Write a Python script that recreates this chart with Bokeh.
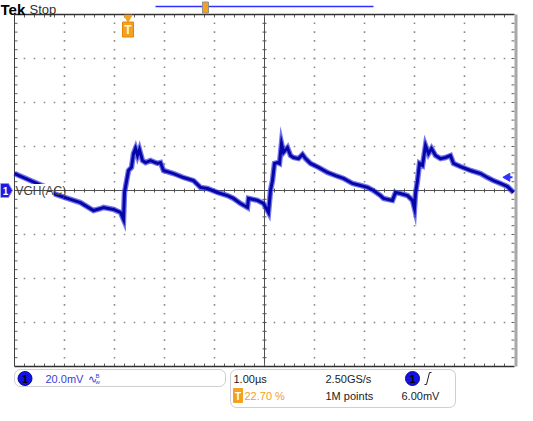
from bokeh.plotting import figure
from bokeh.models import Range1d, BoxAnnotation
from bokeh.core.properties import value
from bokeh.embed import file_html
from bokeh.resources import INLINE
import numpy as np

# ---------------- data ----------------
time_us = [-5.00, -4.68, -4.36, -4.22, -3.94, -3.68, -3.42, -3.28, -3.22, -3.02,
           -2.88, -2.82, -2.80, -2.72, -2.66, -2.62, -2.58, -2.54, -2.50, -2.44,
           -2.38, -2.28, -2.14, -2.08, -2.02, -1.82, -1.62, -1.42, -1.28, -1.14,
           -0.94, -0.74, -0.62, -0.48, -0.34, -0.32, -0.14, -0.02, 0.08, 0.12,
           0.16, 0.20, 0.26, 0.30, 0.34, 0.38, 0.46, 0.52, 0.58, 0.68,
           0.76, 0.82, 0.92, 1.08, 1.26, 1.42, 1.58, 1.76, 1.92, 2.06,
           2.18, 2.32, 2.38, 2.56, 2.62, 2.72, 2.86, 2.96, 3.00, 3.02,
           3.06, 3.10, 3.16, 3.22, 3.28, 3.34, 3.42, 3.52, 3.62, 3.72,
           3.78, 3.92, 4.12, 4.32, 4.46, 4.58, 4.72, 4.86, 4.98]
ch1_mv = [7.7, 4.5, 1.4, -1.4, -3.6, -5.5, -9.1, -8.2, -7.7, -8.6,
          -10.0, -13.2, -0.9, 9.1, 10.5, 16.8, 19.1, 15.9, 18.6, 13.6,
          12.7, 13.6, 12.3, 12.7, 9.1, 7.7, 5.9, 4.5, 1.4, 0.9,
          -0.9, -2.3, -3.6, -5.9, -7.7, -3.6, -4.5, -5.9, -10.0, 0.0,
          4.5, 12.3, 12.7, 12.3, 21.4, 17.3, 19.5, 15.9, 15.0, 14.5,
          16.4, 14.5, 12.3, 10.5, 8.2, 6.8, 5.5, 3.2, 2.3, 1.4,
          0.0, -2.3, -3.6, -4.5, -0.9, -1.4, -2.3, -4.5, -8.2, -1.4,
          4.5, 12.3, 11.4, 20.5, 16.8, 19.1, 15.9, 14.5, 15.0, 15.9,
          12.3, 10.9, 9.1, 7.7, 5.9, 4.5, 3.2, 1.8, -0.9]

channel_label = "VGH(AC)"
volts_per_div_label = "20.0mV"
time_per_div_label = "1.00µs"
trigger_pos_label = "22.70 %"
sample_rate_label = "2.50GS/s"
record_len_label = "1M points"
trigger_level_label = "6.00mV"
trigger_level_mv = 6.0
trigger_pos_pct = 22.70

US_PER_DIV = 1.0
MV_PER_DIV = 20.0
N_DIV_X = 10
N_DIV_Y = 8

# ---------------- layout helpers (page pixels -> data) ----------------
W, H = 533, 421
PXX, PXY = 50.0, 44.0      # pixels per division
CX, CY = 264.0, 190.0      # screen centre of graticule


def X(px):
    return (px - CX) / PXX * US_PER_DIV


def Y(py):
    return (CY - py) / PXY * MV_PER_DIV


dx = US_PER_DIV / PXX   # data per pixel
dy = MV_PER_DIV / PXY

p = figure(width=W, height=H, x_range=Range1d(X(0), X(W)), y_range=Range1d(Y(H), Y(0)),
           output_backend="svg", toolbar_location=None, x_axis_location=None,
           y_axis_location=None, min_border=0, outline_line_color=None, title=None,
           background_fill_color="white", border_fill_color="white")
p.grid.visible = False

TL, TR = -N_DIV_X / 2 * US_PER_DIV, N_DIV_X / 2 * US_PER_DIV
VB, VT = -N_DIV_Y / 2 * MV_PER_DIV, N_DIV_Y / 2 * MV_PER_DIV

# ---------------- graticule dots ----------------
gx, gy = [], []
for k in range(1, N_DIV_X):
    t = TL + k * US_PER_DIV
    if abs(t) < 1e-9:
        continue
    for j in range(1, N_DIV_Y * 5):
        gx.append(t)
        gy.append(VB + j * MV_PER_DIV / 5)
for k in range(1, N_DIV_Y):
    v = VB + k * MV_PER_DIV
    if abs(v) < 1e-9:
        continue
    for j in range(1, N_DIV_X * 5):
        gx.append(TL + j * US_PER_DIV / 5)
        gy.append(v)
p.scatter(gx, gy, marker="square", size=1.6, fill_color="#8a8a8a", line_color=None)

# centre cross with minor ticks
p.line([TL, TR], [0, 0], line_color="#505050", line_width=1)
p.line([0, 0], [VB, VT], line_color="#505050", line_width=1)
mt = [TL + j * US_PER_DIV / 5 for j in range(1, N_DIV_X * 5)]
mv = [VB + j * MV_PER_DIV / 5 for j in range(1, N_DIV_Y * 5)]
p.segment(x0=mt, y0=[-2 * dy] * len(mt), x1=mt, y1=[2 * dy] * len(mt), line_color="#505050", line_width=1)
p.segment(x0=[-2 * dx] * len(mv), y0=mv, x1=[2 * dx] * len(mv), y1=mv, line_color="#505050", line_width=1)
# edge ticks
p.segment(x0=mt, y0=[VT] * len(mt), x1=mt, y1=[VT - 3 * dy] * len(mt), line_color="#606060", line_width=1)
p.segment(x0=mt, y0=[VB] * len(mt), x1=mt, y1=[VB + 3 * dy] * len(mt), line_color="#606060", line_width=1)
p.segment(x0=[TL] * len(mv), y0=mv, x1=[TL + 3 * dx] * len(mv), y1=mv, line_color="#606060", line_width=1)
p.segment(x0=[TR] * len(mv), y0=mv, x1=[TR - 3 * dx] * len(mv), y1=mv, line_color="#606060", line_width=1)

# frame
p.line([TL, TR], [VT, VT], line_color="#303030", line_width=1.5)
p.line([TL, TR], [VB, VB], line_color="#303030", line_width=1.5)
p.line([TL, TL], [VB, VT], line_color="#404040", line_width=1)
p.line([TR + 1.5 * dx, TR + 1.5 * dx], [VB, VT], line_color="#a8a8a8", line_width=3)

# ---------------- waveform ----------------
p.line(time_us, ch1_mv, line_color="#3a3ae6", line_width=5.5, line_alpha=0.7, line_join="miter")
p.line(time_us, ch1_mv, line_color="#0606a8", line_width=3, line_join="miter")

# ---------------- markers ----------------
def txt(xp, yp, s, color, size, align="left", bold=False, font="Liberation Sans"):
    p.text(x=[X(xp)], y=[Y(yp)], text=[s], text_color=color, text_font_size=f"{size}px",
           text_align=align, text_baseline="middle", text_font=value(font),
           text_font_style="bold" if bold else "normal")

ORANGE = "#f4a020"

# left ground marker + label with white backing
p.patch([X(0), X(8), X(12), X(8), X(0)], [Y(183), Y(183), Y(190), Y(197), Y(197)],
        fill_color="#1c1ce0", line_color="#9090ff", line_width=1)
txt(5, 190.5, "1", "white", 10, align="center", bold=True)
p.quad(left=[X(14.5)], right=[X(53)], top=[Y(183.5)], bottom=[Y(196.5)], fill_color="white", line_color=None)
p.line([X(14.5), X(53)], [0, 0], line_color="#505050", line_width=1)
txt(15, 190, channel_label, "#404040", 12)

# trigger level arrow at right
p.scatter([X(507)], [trigger_level_mv], marker="triangle", angle=np.pi / 2, size=8,
          fill_color="#3030ff", line_color="#3030ff")
p.line([X(507), X(512)], [trigger_level_mv, trigger_level_mv], line_color="#3030ff", line_width=2)

# trigger position marker at top
t_trig = TL + trigger_pos_pct / 100 * N_DIV_X * US_PER_DIV
p.scatter([t_trig], [Y(17)], marker="inverted_triangle", size=8, fill_color=ORANGE, line_color=ORANGE)
p.rect([t_trig], [Y(29)], width=11 * dx, height=15 * dy, fill_color=ORANGE, line_color="#e08a00")
p.text(x=[t_trig], y=[Y(29.5)], text=["T"], text_color="#fff4dc", text_font_size="12px",
       text_align="center", text_baseline="middle", text_font=value("Liberation Sans"),
       text_font_style="bold")

# header
txt(0, 9, "Tek", "black", 15, bold=True)
txt(29, 9, "Stop", "#303030", 13)
p.line([X(155), X(373)], [Y(6), Y(6)], line_color="#2f2fff", line_width=1.5)
p.rect([X(205)], [Y(7)], width=6 * dx, height=11 * dy, fill_color=ORANGE, line_color="#909090")

# ---------------- bottom info boxes ----------------
for (l, r, t, b) in [(14, 225, 369, 386), (230, 455, 369, 407)]:
    p.add_layout(BoxAnnotation(left=X(l), right=X(r), top=Y(t), bottom=Y(b), fill_alpha=0,
                               line_color="#606060", line_width=1, border_radius=6))

p.scatter([X(24.5), X(412)], [Y(378), Y(378)], marker="circle", size=14,
          fill_color="#1212e6", line_color="#0a0a90")
txt(24.5, 378.5, "1", "black", 10, align="center", bold=True)
txt(412, 378.5, "1", "black", 10, align="center", bold=True)
txt(45, 378, volts_per_div_label, "#3c3cd8", 11)
txt(87, 378, "∿", "#3c3cd8", 11)
txt(95, 375, "B", "#3c3cd8", 6)
txt(95, 381, "w", "#3c3cd8", 6)

txt(233, 378, time_per_div_label, "#222222", 11)
p.rect([X(237.5)], [Y(395)], width=9 * dx, height=14 * dy, fill_color=ORANGE, line_color=ORANGE)
txt(237.5, 395.5, "T", "white", 10, align="center", bold=True)
txt(244, 395, trigger_pos_label, ORANGE, 11)
txt(325, 378, sample_rate_label, "#222222", 11)
txt(325, 395, record_len_label, "#222222", 11)
p.line([X(424), X(426), X(429), X(431)], [Y(384), Y(384), Y(372), Y(372)], line_color="#222222", line_width=1)
txt(401, 395, trigger_level_label, "#222222", 11)

open("out.html", "w").write(file_html(p, INLINE))
